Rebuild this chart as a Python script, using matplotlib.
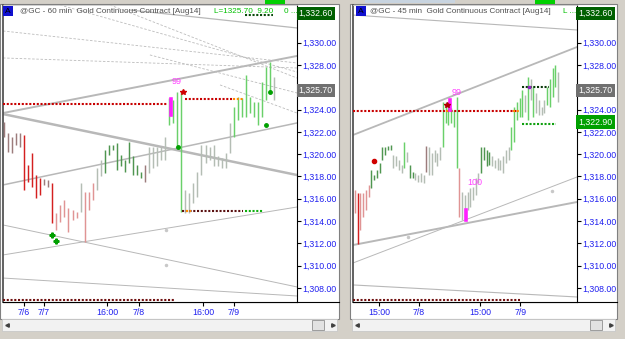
import numpy as np
import matplotlib.pyplot as plt
from matplotlib.patches import Rectangle

plt.rcParams['font.family'] = ['Liberation Sans', 'DejaVu Sans']

# ---- @GC 60 min (left window) : bar highs / lows, bar state ----
left_high = [1322.9, 1321.9, 1321.5, 1321.9, 1321.9, 1321.7, 1319.0, 1320.1, 1318.1, 1317.9,
             1317.8, 1317.7, 1317.4, 1314.7, 1315.4, 1315.9, 1315.2, 1315.0, 1314.8, 1317.4,
             1316.6, 1316.6, 1317.4, 1318.8, 1319.5, 1320.4, 1320.8, 1320.8, 1321.0, 1319.9,
             1319.5, 1321.1, 1319.8, 1319.0, 1318.4, 1319.0, 1320.6, 1320.6, 1320.6, 1320.6,
             1321.5, 1325.0, 1324.9, 1325.6, 1325.6, 1316.8, 1316.5, 1317.4, 1318.4, 1320.8,
             1320.8, 1320.6, 1320.8, 1319.8, 1319.7, 1320.1, 1322.8, 1324.2, 1325.1, 1325.0,
             1327.1, 1325.1, 1324.7, 1324.7, 1326.5, 1327.8, 1328.3, 1326.9]
left_low = [1321.5, 1320.2, 1320.1, 1320.8, 1320.6, 1316.8, 1317.5, 1317.1, 1316.1, 1316.3,
            1317.2, 1317.1, 1313.8, 1313.2, 1313.9, 1314.4, 1313.0, 1314.1, 1314.3, 1314.8,
            1312.1, 1315.0, 1315.9, 1316.8, 1318.0, 1318.3, 1319.9, 1320.4, 1318.6, 1318.9,
            1318.4, 1319.2, 1318.1, 1318.1, 1317.9, 1317.5, 1318.3, 1318.8, 1318.9, 1319.5,
            1319.5, 1322.6, 1322.8, 1320.6, 1314.8, 1314.7, 1314.7, 1315.6, 1316.2, 1318.1,
            1319.2, 1319.5, 1318.9, 1318.9, 1318.8, 1318.8, 1320.1, 1321.5, 1323.1, 1323.3,
            1323.3, 1323.7, 1323.3, 1322.6, 1323.3, 1324.9, 1325.5, 1324.9]
left_state = ('mmmmm' + 'RRRRR' + 'mm' + 'R' + 'rrrrrr' + 'n' + 'rrr' + 'nn' + 'g' * 10 + 'm'
              + 'nnnnn' + 'GGGG' + 'n' * 12 + 'G' * 10 + 'n')
left_tick_pos = [4.96, 9.93, 25.56, 33.5, 49.4, 57.07]
left_tick_lab = ['7/6', '7/7', '16:00', '7/8', '16:00', '7/9']

# ---- @GC 45 min (right window) ----
right_high = [1316.8, 1316.5, 1316.5, 1316.5, 1316.8, 1317.2, 1318.6, 1318.1, 1318.6, 1319.2,
              1320.6, 1320.6, 1320.7, 1320.8, 1319.9, 1319.8, 1319.5, 1319.0, 1321.1, 1320.2,
              1319.0, 1318.4, 1318.3, 1318.1, 1318.3, 1318.1, 1320.7, 1320.6, 1320.1, 1320.4,
              1320.1, 1320.6, 1324.7, 1324.7, 1324.2, 1324.1, 1324.0, 1325.1, 1318.8, 1316.6,
              1316.3, 1316.6, 1317.0, 1317.1, 1317.9, 1318.3, 1320.6, 1320.6, 1320.4, 1320.2,
              1319.8, 1319.5, 1319.7, 1319.5, 1319.8, 1320.4, 1320.6, 1322.4, 1324.2, 1324.7,
              1325.0, 1325.8, 1325.3, 1326.9, 1326.7, 1326.0, 1325.5, 1324.9, 1324.2, 1324.9,
              1326.0, 1326.7, 1327.7, 1328.0, 1327.4]
right_low = [1314.7, 1311.9, 1313.2, 1314.4, 1315.0, 1316.2, 1317.0, 1317.7, 1317.9, 1318.3,
             1319.5, 1319.9, 1320.4, 1320.4, 1318.8, 1318.9, 1318.6, 1318.3, 1318.8, 1319.3,
             1317.9, 1317.9, 1317.7, 1317.5, 1317.5, 1317.4, 1318.4, 1318.1, 1318.1, 1319.3,
             1318.9, 1319.5, 1320.6, 1322.8, 1322.6, 1322.8, 1322.4, 1318.8, 1314.4, 1314.1,
             1314.4, 1315.0, 1315.3, 1315.9, 1316.3, 1317.4, 1318.3, 1319.5, 1318.9, 1319.0,
             1318.9, 1318.8, 1318.6, 1318.6, 1318.3, 1319.2, 1319.5, 1320.4, 1321.1, 1323.1,
             1323.3, 1323.3, 1323.8, 1323.1, 1324.9, 1323.3, 1323.7, 1323.5, 1323.5, 1323.7,
             1324.4, 1324.2, 1325.1, 1326.0, 1324.7]
right_state = ('r' + 'R' + 'rrrr' + 'g' * 8 + 'nnnn' + 'G' + 'n' + 'gg' + 'nnnn' + 'm' + 'nnnnn'
               + 'G' * 6 + 'r' + 'n' * 7 + 'gggg' + 'n' * 7 + 'G' * 5 + 'n' + 'G' + 'n' + 'G'
               + 'nnnn' + 'GGGG' + 'n')
right_tick_pos = [8.75, 23.3, 45.6, 60.2]
right_tick_lab = ['15:00', '7/8', '15:00', '7/9']

price_ticks = [1308, 1310, 1312, 1314, 1316, 1318, 1320, 1322, 1324, 1326, 1328, 1330]
hidden_ticks = [1326]          # covered by the last-price box

# trend lines (bar index, price) -> (bar index, price)
left_trend = [(-0.25, 1323.69, 72.7, 1328.81), (-0.25, 1323.60, 72.7, 1318.13),
              (-0.25, 1317.24, 72.7, 1322.80), (-0.25, 1313.65, 72.7, 1308.09),
              (-0.25, 1310.96, 72.7, 1315.26), (-0.25, 1308.89, 72.7, 1307.28),
              (31.3, 1332.93, 72.7, 1331.32)]
left_trend_lw = [1.4, 1.8, 1.1, 0.7, 0.7, 0.7, 0.9]
left_fan = [(-0.25, 1331.05, 72.7, 1328.18), (-0.25, 1328.63, 72.7, 1327.73),
            (13.9, 1333.38, 72.7, 1327.37), (26.3, 1333.38, 72.7, 1326.83),
            (36.2, 1328.90, 72.7, 1325.49), (53.6, 1326.21, 72.7, 1323.69)]
right_trend = [(-0.73, 1332.48, 80.9, 1331.14), (-0.73, 1321.72, 80.9, 1329.61),
               (-0.73, 1311.85, 80.9, 1315.71), (-0.73, 1310.24, 80.9, 1317.95),
               (-0.73, 1308.27, 80.9, 1307.19)]
right_trend_lw = [0.8, 1.3, 1.4, 0.7, 0.8]

# horizontal dotted levels (start bar, end bar, price)
left_levels = [(-0.25, 40.4, 1324.50), (44.9, 56.8, 1324.95), (56.8, 59.3, 1324.95),
               (44.2, 59.3, 1314.90), (45.2, 46.4, 1314.90), (59.8, 64.3, 1314.90),
               (-0.25, 42.4, 1306.92), (59.8, 66.7, 1332.48)]
left_level_col = ['#c80000', '#c80000', '#ff8c00', '#5a1010', '#ff8c00', '#10b010',
                  '#701010', '#0a4a0a']
right_levels = [(-0.73, 59.1, 1323.87), (33.2, 34.6, 1323.87), (57.6, 59.8, 1323.87),
                (60.9, 70.7, 1326.03), (60.9, 73.4, 1322.71), (-0.73, 60.2, 1306.92)]
right_level_col = ['#c80000', '#ff8c00', '#ff8c00', '#0a3a0a', '#10a010', '#701010']

STATE_COL = {'R': '#d42020', 'r': '#e09494', 'm': '#9c7c7c',
             'n': '#b4bdb4', 'g': '#4f9650', 'G': '#6ad06a'}
Y_LIM = (1306.74, 1333.38)
W, H = 625, 339


def px(x0, y0, x1, y1):
    return [x0 / W, 1 - y1 / H, (x1 - x0) / W, (y1 - y0) / H]


fig = plt.figure(figsize=(6.25, 3.39), dpi=100, facecolor='#d4d0c8')

# window frames / scrollbars (pixel space)
bg = fig.add_axes([0, 0, 1, 1], zorder=0)
bg.set_xlim(0, W)
bg.set_ylim(H, 0)
bg.axis('off')
for x0, x1, sx in [(0, 339, 3), (350, 617, 353)]:
    bg.add_patch(Rectangle((x0, 4), x1 - x0, 315, fc='white', ec='#808080', lw=0.8))
    bg.plot([sx, x1], [302, 302], color='black', lw=0.8)
    bg.add_patch(Rectangle((x0 + 2, 319), x1 - x0 - 4, 12, fc='#f2f2f2', ec='#c8c8c8', lw=0.6))
    bg.add_patch(Rectangle((x1 - 27, 320), 12, 10, fc='#e2e2e2', ec='#909090', lw=0.6))
    bg.plot([x0 + 7], [325], marker='<', ms=2.5, color='#404040')
    bg.plot([x1 - 6], [325], marker='>', ms=2.5, color='#404040')
bg.add_patch(Rectangle((265, 0), 20, 4, fc='#00d000', ec='none'))
bg.add_patch(Rectangle((535, 0), 20, 4, fc='#00d000', ec='none'))
bg.add_patch(Rectangle((365, 0), 90, 3, fc='#c8d4e0', ec='none'))


def panel(rect, xlim, highs, lows, states, tpos, tlab, trends, tlw, levels, lcol):
    ax = fig.add_axes(px(*rect), zorder=2)
    ax.set_xlim(*xlim)
    ax.set_ylim(*Y_LIM)
    for (x0, p0, x1, p1), lw in zip(trends, tlw):
        ax.plot([x0, x1], [p0, p1], color='#b8b8b8', lw=lw, zorder=1)
    x = np.arange(len(highs))
    ax.vlines(x, lows, highs, colors=[STATE_COL[s] for s in states], lw=1.05, zorder=3)
    for (x0, x1, p), c in zip(levels, lcol):
        ax.plot([x0, x1], [p, p], color=c, lw=1.5, ls=(0, (1.0, 0.8)), zorder=4)
    ax.yaxis.tick_right()
    ax.set_yticks(price_ticks)
    ax.set_yticklabels(['' if p in hidden_ticks else f'{p:,.2f}' for p in price_ticks])
    ax.set_xticks(tpos)
    ax.set_xticklabels(tlab)
    ax.tick_params(colors='black', labelcolor='#2020f0', labelsize=6.3,
                   length=3, width=0.8, pad=1)
    ax.spines['left'].set_color('#555555')
    ax.spines['left'].set_linewidth(1.3)
    ax.spines['top'].set_color('#c8c8c8')
    ax.spines['top'].set_linewidth(0.6)
    ax.spines['right'].set_linewidth(0.8)
    ax.spines['bottom'].set_linewidth(0.8)
    return ax


def price_box(ax, price, fc):
    ax.text(1.006, price, f'{price:,.2f}', transform=ax.get_yaxis_transform(),
            ha='left', va='center', fontsize=6.3, color='white', zorder=6, clip_on=False,
            bbox=dict(boxstyle='square,pad=0.25', fc=fc, ec='none'))


axL = panel((3, 5, 297, 302), (-0.25, 72.7), left_high, left_low, left_state,
            left_tick_pos, left_tick_lab, left_trend, left_trend_lw, left_levels, left_level_col)
for x0, p0, x1, p1 in left_fan:
    axL.plot([x0, x1], [p0, p1], color='#bcbcbc', lw=0.6, ls=(0, (3, 2)), zorder=1)
axL.text(42.9, 1326.56, '99', color='#ff40ff', fontsize=6.5, ha='center', va='center')
axL.plot([41.4, 41.4], [1324.95, 1323.51], color='#ff20ff', lw=2.6, zorder=5)
axL.plot(44.4, 1325.58, marker='*', color='#d00000', ms=4, zorder=5)
axL.plot([43.2, 65.0, 66.0], [1320.64, 1322.62, 1325.58], 'o', color='#00a000', ms=2.5, zorder=5)
axL.plot([11.9, 12.9], [1312.75, 1312.21], 'P', color='#00a000', ms=3.5, zorder=5)
axL.plot([40.2, 40.2], [1313.2, 1310.06], 'o', color='#c8c8c8', ms=1.5)
price_box(axL, 1332.60, '#006000')
price_box(axL, 1325.70, '#707070')

axR = panel((353, 5, 577, 302), (-0.73, 80.9), right_high, right_low, right_state,
            right_tick_pos, right_tick_lab, right_trend, right_trend_lw, right_levels,
            right_level_col)
axR.text(37.2, 1325.49, '99', color='#ff40ff', fontsize=6.5, ha='center', va='center')
axR.text(43.7, 1317.50, '100', color='#ff40ff', fontsize=6.5, ha='center', va='center')
axR.plot([34.6, 34.6], [1324.86, 1323.96], color='#ff20ff', lw=2.6, zorder=5)
axR.plot([40.5, 40.5], [1315.0, 1314.1], color='#ff20ff', lw=2.6, zorder=5)
axR.plot(33.5, 1324.41, marker='*', color='#b00000', ms=4, zorder=5)
axR.plot(6.9, 1319.39, 'o', color='#d00000', ms=3, zorder=5)
axR.plot(63.4, 1326.03, 's', color='#9020c0', ms=2, zorder=5)
axR.plot([19.3, 71.8], [1312.57, 1316.70], 'o', color='#c8c8c8', ms=1.5)
price_box(axR, 1332.60, '#006000')
price_box(axR, 1325.70, '#707070')
price_box(axR, 1322.90, '#00a000')

# header line of each chart
ov = fig.add_axes([0, 0, 1, 1], zorder=5)
ov.set_xlim(0, W)
ov.set_ylim(H, 0)
ov.axis('off')
for bx, tx, name in [(3, 20, '@GC - 60 min  Gold Continuous Contract [Aug14]'),
                     (356, 370, '@GC - 45 min  Gold Continuous Contract [Aug14]')]:
    ov.add_patch(Rectangle((bx, 6), 10, 10, fc='#1010d0', ec='none'))
    ov.text(bx + 5, 11.5, 'A', fontsize=6, ha='center', va='center', color='black')
    ov.text(tx, 11.5, name, fontsize=5.9, color='#505050', va='center')
ov.text(214, 11.5, 'L=1325.70  9.20', fontsize=5.9, color='#00c000', va='center')
ov.text(284, 11.5, '0 ...', fontsize=5.9, color='#00c000', va='center')
ov.text(563, 11.5, 'L ...', fontsize=5.9, color='#00c000', va='center')

fig.savefig('out.png', dpi=100, facecolor=fig.get_facecolor())
